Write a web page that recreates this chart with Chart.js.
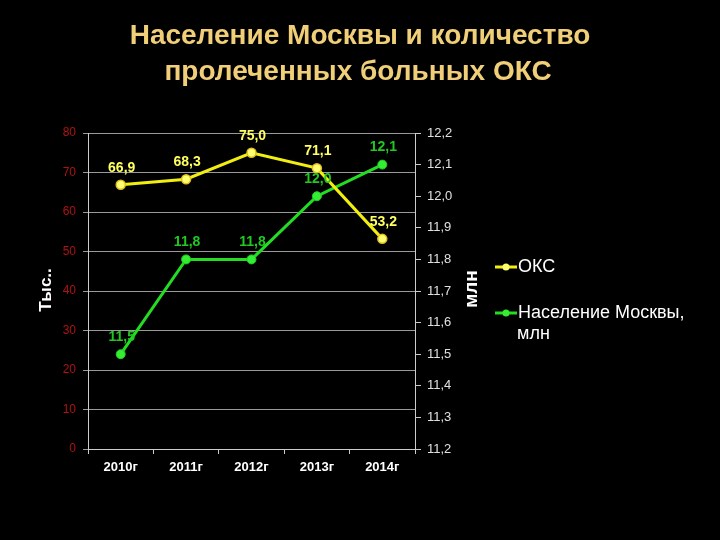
<!DOCTYPE html>
<html><head><meta charset="utf-8">
<script src="https://cdn.jsdelivr.net/npm/chart.js@4"></script>
<style>html,body{margin:0;padding:0;background:#000;}#wrap{width:720px;height:540px;}</style>
</head><body><div id="wrap"><canvas id="c" width="720" height="540"></canvas></div>
<script>
const categories = ['2010г', '2011г', '2012г', '2013г', '2014г'];
const oksValues = [66.9, 68.3, 75.0, 71.1, 53.2];
const populationValues = [11.5, 11.8, 11.8, 12.0, 12.1];
const oksLabel = 'ОКС';
const popLabel = 'Население Москвы, млн';
const titleLines = ['Население Москвы и количество', 'пролеченных больных ОКС'];
const leftAxisTitle = 'Тыс..';
const rightAxisTitle = 'млн';

const fmt = (v, d) => v.toFixed(d).replace('.', ',');
const FONT = '"Liberation Sans", Arial, sans-serif';

const extras = {
  id: 'extras',
  afterDatasetsDraw(chart) {
    const ctx = chart.ctx;
    ctx.save();
    const cfg = [
      {ds: 0, color: '#ffff60'},
      {ds: 1, color: '#22c822'}
    ];
    ctx.font = 'bold 14px ' + FONT;
    ctx.textAlign = 'center';
    ctx.textBaseline = 'middle';
    cfg.forEach(c => {
      const meta = chart.getDatasetMeta(c.ds);
      const data = chart.data.datasets[c.ds].data;
      meta.data.forEach((pt, i) => {
        ctx.fillStyle = c.color;
        ctx.fillText(fmt(data[i], 1), pt.x + 1, pt.y - 17);
      });
    });
    ctx.restore();
  },
  afterDraw(chart) {
    const ctx = chart.ctx;
    ctx.save();
    // title
    ctx.fillStyle = '#f0cf78';
    ctx.font = 'bold 28px ' + FONT;
    ctx.textAlign = 'center';
    ctx.textBaseline = 'middle';
    ctx.fillText(titleLines[0], 360, 36);
    ctx.fillText(titleLines[1], 358, 72);
    // axis titles
    ctx.fillStyle = '#ffffff';
    ctx.font = 'bold 17px ' + FONT;
    ctx.save();
    ctx.translate(46, 290);
    ctx.rotate(-Math.PI / 2);
    ctx.fillText(leftAxisTitle, 0, 0);
    ctx.restore();
    ctx.font = 'bold 19px ' + FONT;
    ctx.save();
    ctx.translate(472, 289);
    ctx.rotate(-Math.PI / 2);
    ctx.fillText(rightAxisTitle, 0, 0);
    ctx.restore();
    // legend
    const items = [
      {label: chart.data.datasets[0].label, color: chart.data.datasets[0].borderColor, pcolor: chart.data.datasets[0].pointBackgroundColor, y: 267},
      {label: chart.data.datasets[1].label, color: chart.data.datasets[1].borderColor, pcolor: chart.data.datasets[1].pointBackgroundColor, y: 313}
    ];
    ctx.font = '18px ' + FONT;
    ctx.textAlign = 'left';
    items.forEach(it => {
      ctx.strokeStyle = it.color;
      ctx.lineWidth = 3;
      ctx.beginPath();
      ctx.moveTo(495, it.y);
      ctx.lineTo(517, it.y);
      ctx.stroke();
      ctx.fillStyle = it.pcolor;
      ctx.beginPath();
      ctx.arc(506, it.y, 3.5, 0, Math.PI * 2);
      ctx.fill();
      ctx.fillStyle = '#ffffff';
      const parts = it.label.split(', ');
      if (parts.length > 1) {
        ctx.fillText(parts[0] + ',', 518, it.y);
        ctx.fillText(parts[1], 517, it.y + 21);
      } else {
        ctx.fillText(it.label, 518, it.y);
      }
    });
    ctx.restore();
  }
};

new Chart(document.getElementById('c'), {
  type: 'line',
  data: {
    labels: categories,
    datasets: [
      {
        label: oksLabel, data: oksValues, yAxisID: 'y',
        borderColor: '#f2ee10', borderWidth: 3,
        pointBackgroundColor: '#ffff70', pointBorderColor: '#e0c020', pointBorderWidth: 1.5,
        pointRadius: 4.5, tension: 0
      },
      {
        label: popLabel, data: populationValues, yAxisID: 'y1',
        borderColor: '#22dd22', borderWidth: 3,
        pointBackgroundColor: '#33ee33', pointBorderColor: '#22cc22', pointBorderWidth: 1,
        pointRadius: 4.5, tension: 0
      }
    ]
  },
  options: {
    responsive: false,
    animation: false,
    events: [],
    layout: {padding: {top: 133, left: 0, right: 0, bottom: 0}},
    plugins: {legend: {display: false}, title: {display: false}, tooltip: {enabled: false}},
    scales: {
      x: {
        offset: true,
        grid: {offset: true, drawOnChartArea: false, tickLength: 5, color: '#cccccc'},
        border: {color: '#cccccc', width: 1},
        ticks: {color: '#ffffff', font: {family: FONT, size: 13, weight: 'bold'}, padding: 6},
        afterFit(s) { s.height = 91; }
      },
      y: {
        position: 'left', min: 0, max: 80,
        ticks: {stepSize: 10, color: '#b01212', font: {family: FONT, size: 12}, padding: 7},
        grid: {color: '#9a9a9a', tickLength: 5, lineWidth: 1},
        border: {color: '#cccccc', width: 1},
        afterFit(s) { s.width = 88; }
      },
      y1: {
        position: 'right', min: 11.2, max: 12.2,
        ticks: {stepSize: 0.1, color: '#e0e0e0', font: {family: FONT, size: 13}, padding: 6,
          callback: v => fmt(v, 1)},
        grid: {drawOnChartArea: false, color: '#cccccc', tickLength: 6},
        border: {color: '#cccccc', width: 1},
        afterFit(s) { s.width = 305; }
      }
    }
  },
  plugins: [extras]
});
</script>
</body></html>
